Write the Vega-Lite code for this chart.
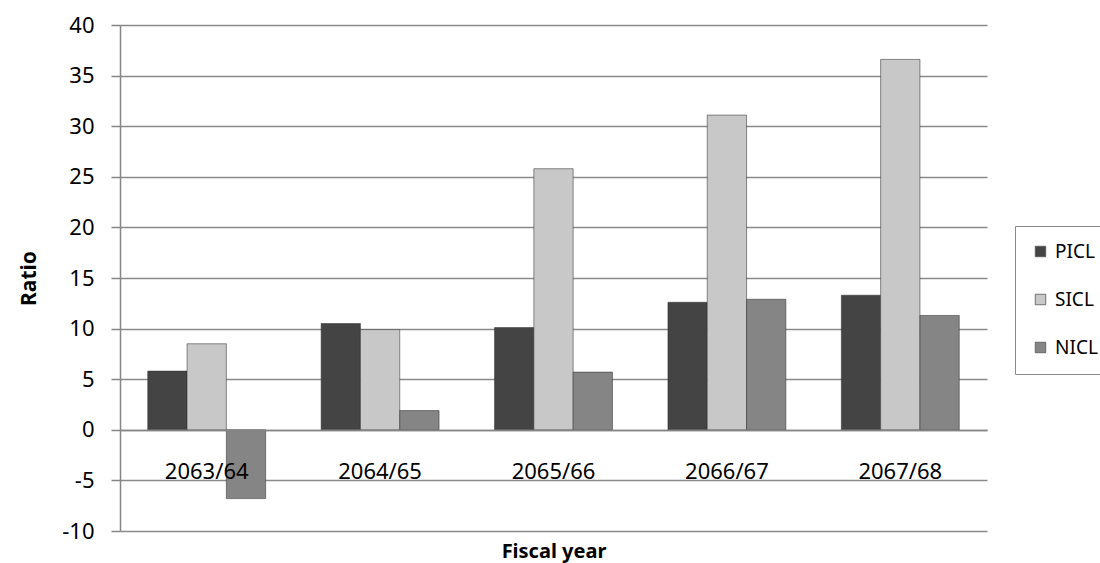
{
  "$schema": "https://vega.github.io/schema/vega-lite/v6.json",
  "autosize": "none",
  "width": 867,
  "height": 506,
  "padding": {"left": 120, "top": 25, "right": 113, "bottom": 32},
  "background": "white",
  "config": {
    "view": {"stroke": null},
    "font": "Noto Sans"
  },
  "data": {
    "values": [
      {"year": "2063/64", "series": "PICL", "ratio": 5.8},
      {"year": "2063/64", "series": "SICL", "ratio": 8.5},
      {"year": "2063/64", "series": "NICL", "ratio": -6.8},
      {"year": "2064/65", "series": "PICL", "ratio": 10.5},
      {"year": "2064/65", "series": "SICL", "ratio": 9.9},
      {"year": "2064/65", "series": "NICL", "ratio": 1.9},
      {"year": "2065/66", "series": "PICL", "ratio": 10.1},
      {"year": "2065/66", "series": "SICL", "ratio": 25.8},
      {"year": "2065/66", "series": "NICL", "ratio": 5.7},
      {"year": "2066/67", "series": "PICL", "ratio": 12.6},
      {"year": "2066/67", "series": "SICL", "ratio": 31.1},
      {"year": "2066/67", "series": "NICL", "ratio": 12.9},
      {"year": "2067/68", "series": "PICL", "ratio": 13.3},
      {"year": "2067/68", "series": "SICL", "ratio": 36.6},
      {"year": "2067/68", "series": "NICL", "ratio": 11.3}
    ]
  },
  "mark": {"type": "bar", "stroke": "#333333", "strokeWidth": 1, "strokeOpacity": 0.55},
  "encoding": {
    "x": {
      "field": "year",
      "type": "nominal",
      "sort": null,
      "scale": {"paddingInner": 0.32, "paddingOuter": 0.16},
      "axis": {
        "title": "Fiscal year",
        "titleFontWeight": "bold",
        "titleFontSize": 20,
        "titleColor": "#000000",
        "titleBaseline": "middle",
        "titleY": 121,
        "offset": -101,
        "zindex": 1,
        "labelAngle": 0,
        "labelFontSize": 22,
        "labelColor": "#000000",
        "labelBaseline": "middle",
        "labelPadding": 41,
        "ticks": false,
        "domainColor": "#858585",
        "domainWidth": 1.5
      }
    },
    "xOffset": {"field": "series", "type": "nominal", "sort": ["PICL", "SICL", "NICL"], "scale": {"paddingInner": 0, "paddingOuter": 0}},
    "y": {
      "field": "ratio",
      "type": "quantitative",
      "scale": {"domain": [-10, 40], "nice": false},
      "axis": {
        "title": "Ratio",
        "titleFontWeight": "bold",
        "titleFontSize": 21,
        "titleColor": "#000000",
        "titlePadding": 22,
        "values": [-10, -5, 0, 5, 10, 15, 20, 25, 30, 35, 40],
        "labelExpr": "datum.value < 0 ? '-' + abs(datum.value) : '' + datum.value",
        "labelFontSize": 22,
        "labelColor": "#000000",
        "labelPadding": 17,
        "tickSize": 9,
        "tickColor": "#858585",
        "tickWidth": 1.5,
        "domainColor": "#858585",
        "domainWidth": 1.5,
        "gridColor": "#8a8a8a",
        "gridWidth": 1.3
      }
    },
    "color": {
      "field": "series",
      "type": "nominal",
      "sort": ["PICL", "SICL", "NICL"],
      "scale": {"domain": ["PICL", "SICL", "NICL"], "range": ["#444444", "#c8c8c8", "#858585"]},
      "legend": {
        "title": null,
        "orient": "none",
        "legendX": 895,
        "legendY": 201,
        "symbolType": "square",
        "symbolSize": 110,
        "symbolStrokeColor": "#555555",
        "symbolStrokeWidth": 0.8,
        "labelFontSize": 19,
        "labelColor": "#000000",
        "labelOffset": 5,
        "rowPadding": 28,
        "padding": 16,
        "strokeColor": "#8a8a8a",
        "fillColor": "white"
      }
    }
  }
}
